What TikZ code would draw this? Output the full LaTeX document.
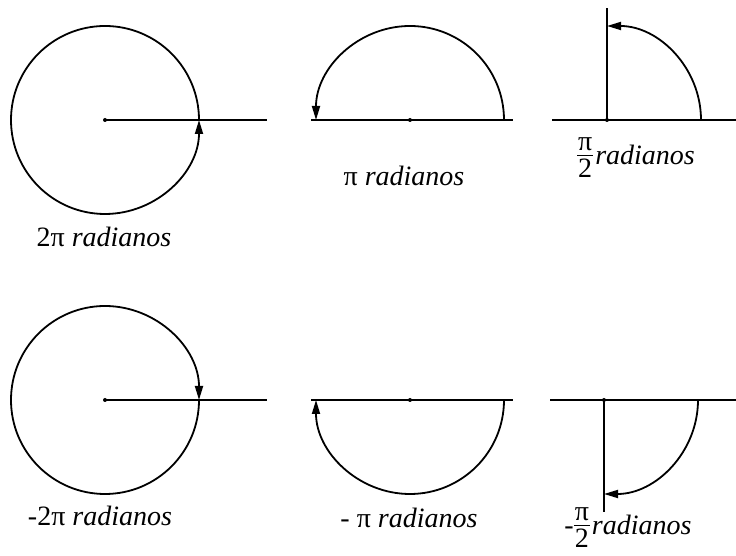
\documentclass[tikz,border=0pt]{standalone}
\usepackage{fontspec}
\setmainfont{Liberation Serif}
\usetikzlibrary{arrows.meta}
\newcommand{\pihalf}{$\vcenter{\halign{\kern1pt\hfil##\hfil\kern1pt\cr π\cr\noalign{\kern4pt\hrule height 1.2pt\kern3pt}2\cr}}$}
\begin{document}
\begin{tikzpicture}[x=1pt,y=1pt,
  ln/.style={line width=1.8pt},
  arcarrow/.style={line width=1.8pt,-{Triangle[length=14pt,width=8pt]}},
  cdot/.style={circle,fill=black,inner sep=0pt,minimum size=4pt},
  lbl/.style={font=\fontsize{28}{33}\selectfont,inner sep=0pt}]
\useasboundingbox (0,0) rectangle (736,556);
% ---- top left: 2pi
\node[cdot] (c1) at (105,436) {};
\coordinate (e1) at (267,436);
\draw[ln] (c1.center) -- (e1);
\draw[arcarrow] (c1.center) ++(0:94) arc[start angle=0,end angle=360,radius=94];
\node[lbl] (l1) at (104,319) {2π \textit{radianos}};
% ---- top middle: pi
\node[cdot] (c2) at (410,436) {};
\coordinate (a2) at (311,436);
\coordinate (b2) at (513,436);
\draw[ln] (a2) -- (b2);
\draw[arcarrow] (c2.center) ++(0:94) arc[start angle=0,end angle=180,radius=94];
\node[lbl] (l2) at (404,380) {π \textit{radianos}};
% ---- top right: pi/2
\node[cdot] (c3) at (607,436) {};
\coordinate (a3) at (552,436);
\coordinate (b3) at (736,436);
\coordinate (t3) at (607,548);
\draw[ln] (a3) -- (b3);
\draw[ln] (c3.center) -- (t3);
\draw[arcarrow] (c3.center) ++(0:94) arc[start angle=0,end angle=90,radius=94];
\node[lbl] (l3) at (636,398) {\pihalf\kern2pt\textit{radianos}};
% ---- bottom left: -2pi
\node[cdot] (c4) at (105,156) {};
\coordinate (e4) at (267,156);
\draw[ln] (c4.center) -- (e4);
\draw[arcarrow] (c4.center) ++(0:94) arc[start angle=0,end angle=-360,radius=94];
\node[lbl] (l4) at (100,40) {-2π \textit{radianos}};
% ---- bottom middle: -pi
\node[cdot] (c5) at (410,156) {};
\coordinate (a5) at (311,156);
\coordinate (b5) at (513,156);
\draw[ln] (a5) -- (b5);
\draw[arcarrow] (c5.center) ++(0:94) arc[start angle=0,end angle=-180,radius=94];
\node[lbl] (l5) at (409,38) {- π \textit{radianos}};
% ---- bottom right: -pi/2
\node[cdot] (c6) at (604,156) {};
\coordinate (a6) at (550,156);
\coordinate (b6) at (736,156);
\coordinate (t6) at (604,44);
\draw[ln] (a6) -- (b6);
\draw[ln] (c6.center) -- (t6);
\draw[arcarrow] (c6.center) ++(0:94) arc[start angle=0,end angle=-90,radius=94];
\node[lbl] (l6) at (628,28) {-\pihalf\kern2pt\textit{radianos}};
\end{tikzpicture}
\end{document}
